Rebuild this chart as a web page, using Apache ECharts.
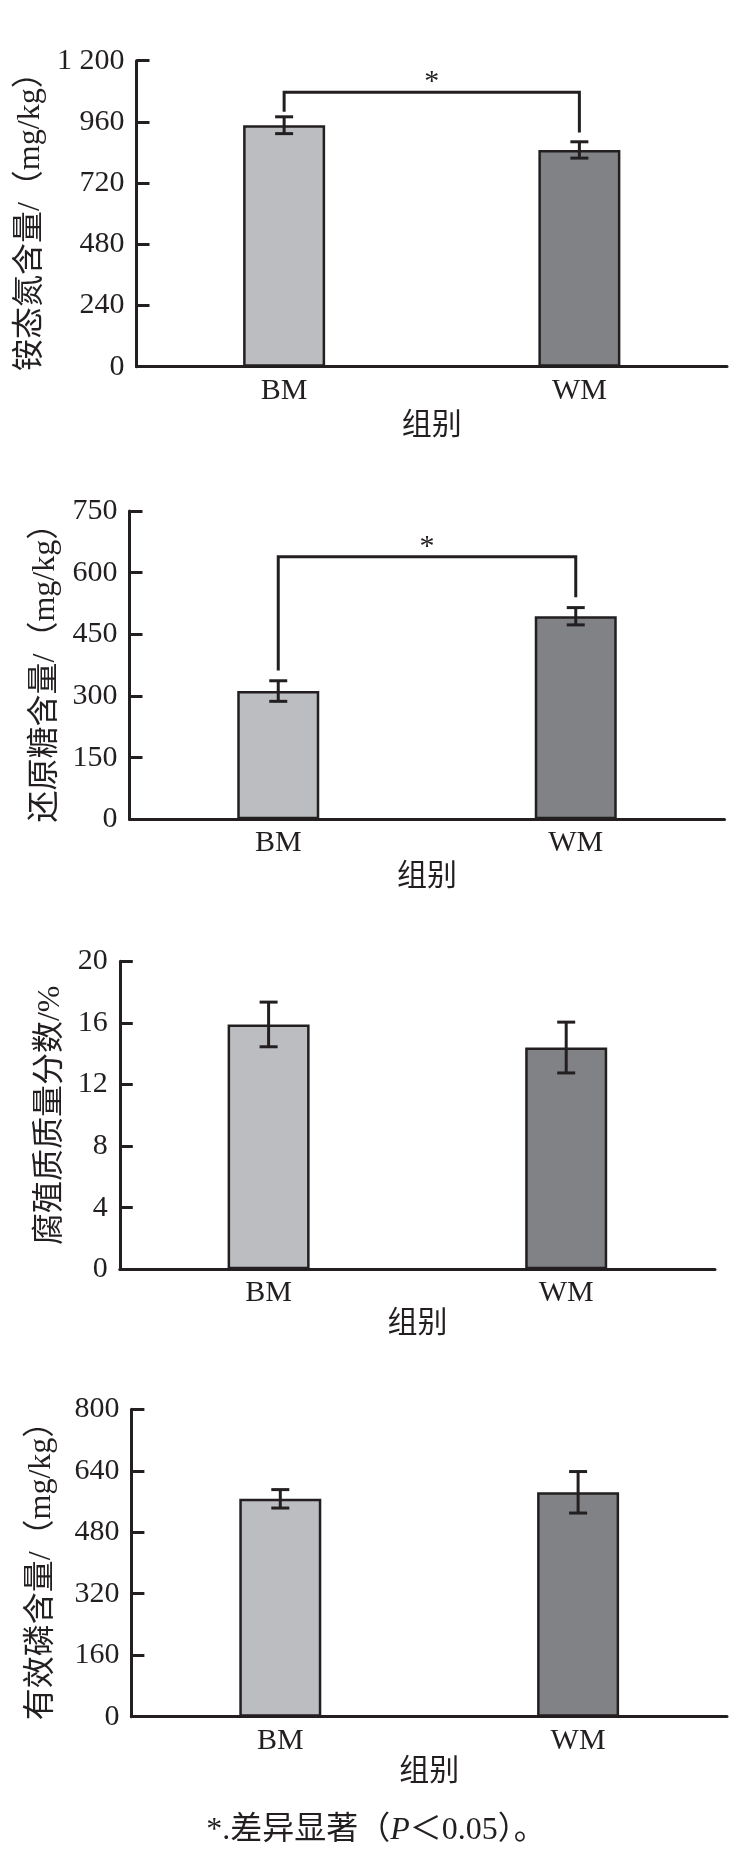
<!DOCTYPE html>
<html>
<head>
<meta charset="utf-8">
<title>组别对比</title>
<script src="https://cdn.jsdelivr.net/npm/echarts@6/dist/echarts.min.js"></script>
<style>
  html, body { margin: 0; padding: 0; background: #fff; }
  #main { width: 752px; height: 1869px; }
</style>
</head>
<body>
<div id="main"></div>
<script>
  // 组别
  var groups = ['BM', 'WM'];
  // 铵态氮含量 mg/kg
  var nh4Mean = [947, 850];
  var nh4Err = [33, 32];
  // 还原糖含量 mg/kg
  var sugarMean = [312, 494];
  var sugarErr = [25, 21];
  // 腐殖质质量分数 %
  var humusMean = [15.9, 14.4];
  var humusErr = [1.45, 1.65];
  // 有效磷含量 mg/kg
  var phosMean = [567, 584];
  var phosErr = [24, 54];
  // 显著性括号: 横线高度, 左端, 右端
  var nh4Sig = [1076, 1000, 918];
  var sugarSig = [639, 362, 540];
  // y轴
  var yNames = ['铵态氮含量/（mg/kg）', '还原糖含量/（mg/kg）', '腐殖质质量分数/%', '有效磷含量/（mg/kg）'];
  var yMax = [1200, 750, 20, 800];
  var yStep = [240, 150, 4, 160];

  var ink = '#231f20';
  var font = '"Liberation Serif", "Noto Sans CJK SC", serif';
  var barColors = ['#bcbdc0', '#808285'];

  var means = [nh4Mean, sugarMean, humusMean, phosMean];
  var errs = [nh4Err, sugarErr, humusErr, phosErr];
  var sigs = [nh4Sig, sugarSig, null, null];

  // 各子图位置
  var panels = [
    {left: 136.5, right: 25, top: 60.7, height: 306, yGap: 86, xGap: 44},
    {left: 129.5, right: 27.5, top: 511, height: 308.3, yGap: 67, xGap: 43},
    {left: 119.8, right: 37, top: 961.3, height: 308, yGap: 50, xGap: 39},
    {left: 131.4, right: 25, top: 1409.3, height: 307.4, yGap: 74, xGap: 40}
  ];

  // 误差线
  function renderError(params, api) {
    var x = api.value(0), m = api.value(1), e = api.value(2);
    var hi = api.coord([x, m + e]);
    var lo = api.coord([x, m - e]);
    var w = 9;
    var st = {stroke: ink, lineWidth: 3};
    return {
      type: 'group',
      children: [
        {type: 'line', shape: {x1: hi[0], y1: hi[1], x2: lo[0], y2: lo[1]}, style: st},
        {type: 'line', shape: {x1: hi[0] - w, y1: hi[1], x2: hi[0] + w, y2: hi[1]}, style: st},
        {type: 'line', shape: {x1: lo[0] - w, y1: lo[1], x2: lo[0] + w, y2: lo[1]}, style: st}
      ]
    };
  }

  // 显著性标记
  function renderSig(params, api) {
    var a = api.coord([api.value(0), api.value(3)]);
    var t1 = api.coord([api.value(0), api.value(2)]);
    var t2 = api.coord([api.value(1), api.value(2)]);
    var b = api.coord([api.value(1), api.value(4)]);
    return {
      type: 'group',
      children: [
        {type: 'polyline', shape: {points: [a, t1, t2, b]}, style: {stroke: ink, lineWidth: 3, fill: null}},
        {type: 'text', x: (t1[0] + t2[0]) / 2, y: t1[1] - 10,
          style: {text: '*', font: '30px ' + font, fill: ink, align: 'center', verticalAlign: 'middle'}}
      ]
    };
  }

  function fmtY(v) {
    if (v >= 1000) {
      return Math.floor(v / 1000) + ' ' + String(v % 1000).padStart(3, '0');
    }
    return String(v);
  }

  var grid = [], xAxis = [], yAxis = [], series = [];
  panels.forEach(function (p, i) {
    grid.push({left: p.left, right: p.right, top: p.top, height: p.height});
    xAxis.push({
      type: 'category',
      gridIndex: i,
      data: groups,
      name: '组别',
      nameLocation: 'middle',
      nameGap: p.xGap,
      nameTextStyle: {fontSize: 30, fontFamily: font, color: ink},
      axisLine: {lineStyle: {color: ink, width: 3}},
      axisTick: {inside: true, length: 12, lineStyle: {color: ink, width: 3}},
      axisLabel: {fontSize: 30, fontFamily: font, color: ink, margin: 9}
    });
    yAxis.push({
      type: 'value',
      gridIndex: i,
      min: 0,
      max: yMax[i],
      interval: yStep[i],
      name: yNames[i],
      nameLocation: 'middle',
      nameGap: p.yGap,
      nameTextStyle: {fontSize: 32, fontFamily: font, color: ink},
      axisLine: {show: true, lineStyle: {color: ink, width: 3}},
      axisTick: {show: true, inside: true, length: 13, lineStyle: {color: ink, width: 3}},
      axisLabel: {fontSize: 30, fontFamily: font, color: ink, margin: 12, formatter: fmtY},
      splitLine: {show: false}
    });
    series.push({
      type: 'bar',
      xAxisIndex: i,
      yAxisIndex: i,
      barWidth: 82,
      itemStyle: {borderColor: ink, borderWidth: 2.5},
      data: means[i].map(function (v, j) {
        return {value: v, itemStyle: {color: barColors[j]}};
      })
    });
    series.push({
      type: 'custom',
      xAxisIndex: i,
      yAxisIndex: i,
      renderItem: renderError,
      z: 5,
      data: means[i].map(function (v, j) { return [j, v, errs[i][j]]; })
    });
    if (sigs[i]) {
      series.push({
        type: 'custom',
        xAxisIndex: i,
        yAxisIndex: i,
        renderItem: renderSig,
        z: 6,
        clip: false,
        data: [[0, 1, sigs[i][0], sigs[i][1], sigs[i][2]]]
      });
    }
  });

  var myChart = echarts.init(document.getElementById('main'));
  myChart.setOption({
    animation: false,
    grid: grid,
    xAxis: xAxis,
    yAxis: yAxis,
    series: series,
    graphic: [{
      type: 'text',
      left: 'center',
      top: 1815,
      style: {
        text: '{n|*.差异显著（}{i|P}{n|＜0.05）。}',
        rich: {
          n: {fontSize: 32, fontFamily: font, fill: ink},
          i: {fontSize: 32, fontFamily: font, fontStyle: 'italic', fill: ink}
        }
      }
    }]
  });
</script>
</body>
</html>
